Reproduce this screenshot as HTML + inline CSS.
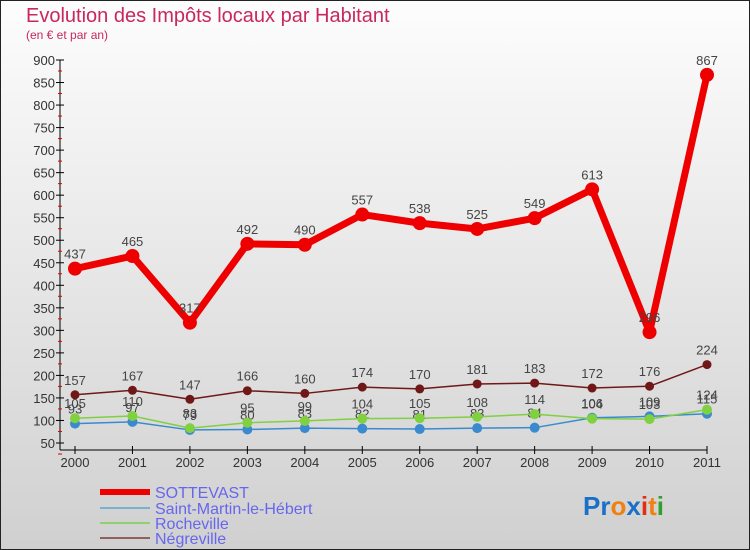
<!DOCTYPE html>
<html><head><meta charset="utf-8"><style>
body{margin:0;width:750px;height:550px;overflow:hidden;font-family:"Liberation Sans",sans-serif}
</style></head><body>
<svg width="750" height="550" style="display:block">
<defs><linearGradient id="bg" x1="0" y1="0" x2="0" y2="1"><stop offset="0" stop-color="#fdfdfd"/><stop offset="1" stop-color="#d0d0d0"/></linearGradient></defs>
<rect x="0.5" y="0.5" width="749" height="549" fill="url(#bg)" stroke="#222"/>
<text x="26" y="22" font-size="20" fill="#c8285a">Evolution des Impôts locaux par Habitant</text>
<text x="26" y="39" font-size="12" fill="#c8285a">(en € et par an)</text>
<g id="axes"></g><g id="series"></g>
<g font-size="16" fill="#6666ee">
<line x1="100" y1="492" x2="150" y2="492" stroke="#e00" stroke-width="6"/>
<text x="155" y="498">SOTTEVAST</text>
<line x1="100" y1="508" x2="150" y2="508" stroke="#7ab0d0" stroke-width="2"/>
<text x="155" y="514">Saint-Martin-le-Hébert</text>
<line x1="100" y1="523" x2="150" y2="523" stroke="#90d070" stroke-width="2"/>
<text x="155" y="529">Rocheville</text>
<line x1="100" y1="538" x2="150" y2="538" stroke="#906060" stroke-width="2"/>
<text x="155" y="544">Négreville</text>
</g>
<text x="583" y="515" font-size="26" font-weight="bold"><tspan fill="#1a70c8">Pr</tspan><tspan fill="#f08010">o</tspan><tspan fill="#1a70c8">x</tspan><tspan fill="#e03010">i</tspan><tspan fill="#f08010">t</tspan><tspan fill="#30a030">i</tspan></text>
</svg>
<script>
const years=["2000","2001","2002","2003","2004","2005","2006","2007","2008","2009","2010","2011"];
const yTicks=[50,100,150,200,250,300,350,400,450,500,550,600,650,700,750,800,850,900];
const sottevast=[437,465,317,492,490,557,538,525,549,613,296,867];
const saintMartin=[93,97,79,80,83,82,81,83,84,106,109,115];
const rocheville=[105,110,83,95,99,104,105,108,114,104,103,124];
const negreville=[157,167,147,166,160,174,170,181,183,172,176,224];
const NS="http://www.w3.org/2000/svg";
const xS=i=>75+i*(707-75)/11;
const yS=v=>443-(v-50)*(443-60)/850;
function mk(t,a,p){const e=document.createElementNS(NS,t);for(const k in a)e.setAttribute(k,a[k]);p.appendChild(e);return e;}
const ax=document.getElementById('axes');
mk('line',{x1:60,y1:60,x2:60,y2:450,stroke:'#000'},ax);
mk('line',{x1:60,y1:450,x2:707,y2:450,stroke:'#000'},ax);
yTicks.forEach(v=>{const y=yS(v);
const tk=mk('line',{x1:56,y1:y,x2:64,y2:y,stroke:'#000'},ax);


const m=mk('line',{x1:58,y1:y+11,x2:62,y2:y+11,stroke:'#d00'},ax);


const t=mk('text',{x:55,y:y+5,'text-anchor':'end','font-size':13,fill:'#333'},ax);t.textContent=v;

});
years.forEach((yr,i)=>{const x=xS(i);
mk('line',{x1:x,y1:446,x2:x,y2:454,stroke:'#000'},ax);
const t=mk('text',{x:x,y:467,'text-anchor':'middle','font-size':13,fill:'#333'},ax);t.textContent=yr;

});
const sg=document.getElementById('series');
function draw(vals,color,w,r,name){
const g=mk('g',{},sg);


mk('polyline',{points:vals.map((v,i)=>xS(i)+','+yS(v)).join(' '),fill:'none',stroke:color,'stroke-width':w,'stroke-linejoin':'round'},g);
vals.forEach((v,i)=>{const c=mk('circle',{cx:xS(i),cy:yS(v),r:r,fill:color},g);


const t=mk('text',{x:xS(i),y:yS(v)-10,'text-anchor':'middle','font-size':13,fill:'#444'},g);t.textContent=v;

});}
draw(negreville,'#701818',1.5,4.5,'negreville-series');
draw(saintMartin,'#3a8ad0',1.5,5,'saint-martin-series');
draw(rocheville,'#80d040',1.5,5,'rocheville-series');
draw(sottevast,'#ee0000',7,7,'sottevast-series');
</script>
</body></html>
